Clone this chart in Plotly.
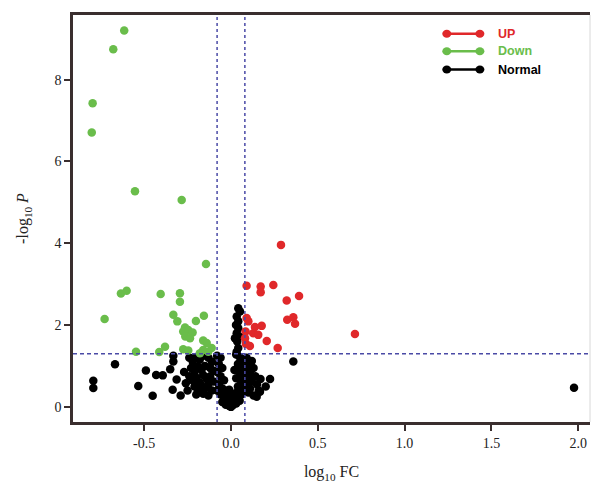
import plotly.graph_objects as go

# ---- data (log10 FC, -log10 P) ----
up_x = [0.288, 0.090, 0.171, 0.171, 0.244, 0.321, 0.392, 0.324, 0.359, 0.369, 0.714,
        0.090, 0.100, 0.138, 0.177, 0.128, 0.081, 0.086, 0.109, 0.206, 0.269, 0.157, 0.084]
up_y = [3.96, 2.96, 2.94, 2.80, 2.98, 2.60, 2.71, 2.13, 2.19, 2.03, 1.78,
        2.17, 2.09, 1.95, 1.98, 1.80, 1.68, 1.54, 1.49, 1.61, 1.44, 1.76, 1.84]

down_x = [-0.615, -0.678, -0.797, -0.802, -0.553, -0.284, -0.144,
          -0.634, -0.601, -0.728, -0.405, -0.294, -0.294, -0.332, -0.309, -0.202, -0.156,
          -0.265, -0.275, -0.246, -0.221, -0.263, -0.236, -0.547, -0.413, -0.380, -0.275,
          -0.246, -0.160, -0.140, -0.160, -0.111, -0.131, -0.179]
down_y = [9.20, 8.74, 7.42, 6.71, 5.27, 5.06, 3.49,
          2.77, 2.84, 2.15, 2.76, 2.78, 2.57, 2.25, 2.09, 2.10, 2.23,
          1.94, 1.84, 1.88, 1.82, 1.72, 1.68, 1.35, 1.34, 1.47, 1.41,
          1.38, 1.62, 1.56, 1.39, 1.44, 1.35, 1.31]

normal_x = [-0.668, -0.793, -0.793, -0.534, -0.451, -0.490, -0.431, -0.393, -0.350, -0.313,
            -0.336, -0.290, -0.332, 1.976, 0.359, 0.225, 0.148, 0.167, -0.332, -0.226,
            # vertical band just left of the right cut-off
            0.042, 0.052, 0.033, 0.042, 0.029, 0.042, 0.033, 0.048, 0.023, 0.036, 0.042, 0.033,
            # left blob
            -0.24, -0.22, -0.20, -0.18, -0.16, -0.13, -0.11, -0.23, -0.21, -0.19, -0.17, -0.15,
            -0.12, -0.10, -0.24, -0.22, -0.20, -0.18, -0.16, -0.14, -0.12, -0.10, -0.21, -0.19,
            -0.17, -0.15, -0.13, -0.11, -0.20, -0.16, -0.13, -0.26, -0.27, -0.25,
            # left arm of centre
            -0.08, -0.06, -0.07, -0.05, -0.08, -0.06, -0.04, -0.07, -0.05, -0.08,
            # right arm of centre
            0.03, 0.05, 0.07, 0.04, 0.06, 0.02, 0.05, 0.07, 0.03, 0.06, 0.04, 0.07,
            # bottom of centre
            -0.06, -0.04, -0.02, 0.00, 0.02, 0.04, 0.06, -0.05, -0.03, -0.01, 0.01, 0.03,
            0.05, -0.02, 0.00, 0.02, -0.04, 0.04, -0.01, 0.01, -0.03, 0.06, 0.00, -0.02,
            # right tail
            0.09, 0.10, 0.12, 0.09, 0.11, 0.13, 0.10, 0.12, 0.14, 0.09, 0.11, 0.15,
            0.10, 0.13, 0.16, 0.17, 0.20]
normal_y = [1.04, 0.64, 0.46, 0.51, 0.27, 0.89, 0.78, 0.77, 0.92, 0.67,
            0.42, 0.28, 1.25, 0.47, 1.11, 0.68, 0.25, 0.37, 1.11, 1.19,
            2.41, 2.33, 2.21, 2.09, 2.00, 1.92, 1.80, 1.72, 1.68, 1.60, 1.44, 1.35,
            1.20, 1.10, 1.22, 1.15, 1.25, 1.20, 1.10, 0.95, 0.85, 0.98, 0.90, 1.00,
            0.95, 0.88, 0.75, 0.65, 0.72, 0.60, 0.78, 0.68, 0.75, 0.62, 0.50, 0.42,
            0.52, 0.45, 0.55, 0.40, 0.30, 0.32, 0.28, 0.58, 0.85, 0.40,
            1.25, 1.20, 1.05, 0.95, 0.85, 0.75, 0.65, 0.55, 0.45, 0.40,
            1.28, 1.22, 1.15, 1.05, 0.98, 0.90, 0.85, 0.75, 0.70, 0.60, 0.50, 0.45,
            0.30, 0.22, 0.15, 0.10, 0.12, 0.20, 0.30, 0.12, 0.05, 0.02, 0.04, 0.08,
            0.15, 0.30, 0.25, 0.32, 0.38, 0.38, 0.42, 0.18, 0.40, 0.42, 0.00, 0.08,
            1.20, 1.05, 1.12, 0.90, 0.82, 0.95, 0.70, 0.62, 0.75, 0.55, 0.45, 0.55,
            0.35, 0.28, 0.40, 0.68, 0.50]

fc_cut = 0.08
p_cut = 1.301
x_ticks = [-0.5, 0.0, 0.5, 1.0, 1.5, 2.0]
x_tick_text = ["-0.5", "0.0", "0.5", "1.0", "1.5", "2.0"]
y_ticks = [0, 2, 4, 6, 8]

RED = "#e0282a"
GREEN = "#6abd4b"
BLACK = "#000000"
LINE_BLUE = "#4a4aa6"
AXIS = "#3a2e2e"

fig = go.Figure()
ms = 8.5
fig.add_trace(go.Scatter(x=normal_x, y=normal_y, mode="markers",
                         marker=dict(color=BLACK, size=ms), name="Normal", showlegend=False))
fig.add_trace(go.Scatter(x=down_x, y=down_y, mode="markers",
                         marker=dict(color=GREEN, size=ms), name="Down", showlegend=False))
fig.add_trace(go.Scatter(x=up_x, y=up_y, mode="markers",
                         marker=dict(color=RED, size=ms), name="UP", showlegend=False))

# threshold lines
for xv in (-fc_cut, fc_cut):
    fig.add_shape(type="line", xref="x", yref="paper", x0=xv, x1=xv, y0=0, y1=1,
                  line=dict(color=LINE_BLUE, width=1.5, dash="dot"), layer="above")
fig.add_shape(type="line", xref="paper", yref="y", x0=0, x1=1, y0=p_cut, y1=p_cut,
              line=dict(color=LINE_BLUE, width=1.5, dash="4px,3px"), layer="above")

# right frame edge (light)
fig.add_shape(type="line", xref="paper", yref="paper", x0=1, x1=1, y0=0, y1=1,
              line=dict(color="#d8d8d8", width=1), layer="above")

# custom legend
legend_items = [("UP", RED), ("Down", GREEN), ("Normal", BLACK)]
lx0, lx1 = 0.723, 0.787
ly = [0.954, 0.911, 0.866]
for (label, col), yy in zip(legend_items, ly):
    fig.add_shape(type="line", xref="paper", yref="paper", x0=lx0, x1=lx1, y0=yy, y1=yy,
                  line=dict(color=col, width=2.5))
    for xx in (lx0, lx1):
        fig.add_shape(type="circle", xref="paper", yref="paper",
                      xsizemode="pixel", ysizemode="pixel", xanchor=xx, yanchor=yy,
                      x0=-4.5, x1=4.5, y0=-4, y1=4,
                      fillcolor=col, line=dict(color=col, width=0))
    fig.add_annotation(xref="paper", yref="paper", x=0.818, y=yy, text="<b>%s</b>" % label,
                       showarrow=False, xanchor="left", yanchor="middle",
                       font=dict(family="Liberation Sans, Arial", size=12.5, color=col))

fig.update_layout(
    width=592, height=487,
    margin=dict(l=73, r=2, t=15, b=65),
    paper_bgcolor="white", plot_bgcolor="white",
    font=dict(family="Liberation Serif, Times New Roman, serif", size=14, color="#222222"),
    xaxis=dict(range=[-0.91, 2.068], tickvals=x_ticks, ticktext=x_tick_text,
               showgrid=False, zeroline=False, showline=True, linecolor=AXIS, linewidth=2.5,
               mirror=True, ticks="outside", ticklen=6, tickwidth=2, tickcolor=AXIS,
               title=dict(text="log<sub>10</sub> FC", standoff=17,
                          font=dict(size=16, color="#222222"))),
    yaxis=dict(range=[-0.37, 9.58], tickvals=y_ticks,
               showgrid=False, zeroline=False, showline=True, linecolor=AXIS, linewidth=2.5,
               ticks="outside", ticklen=6, tickwidth=2, tickcolor=AXIS,
               title=dict(text="-log<sub>10</sub> <i>P</i>", standoff=22,
                          font=dict(size=16, color="#222222"))),
)

# remove the browser's default page margin so the figure fills the window exactly
fig.write_html("out.html", config={"displayModeBar": False},
               post_script="document.body.style.margin='0';document.body.style.overflow='hidden';")
